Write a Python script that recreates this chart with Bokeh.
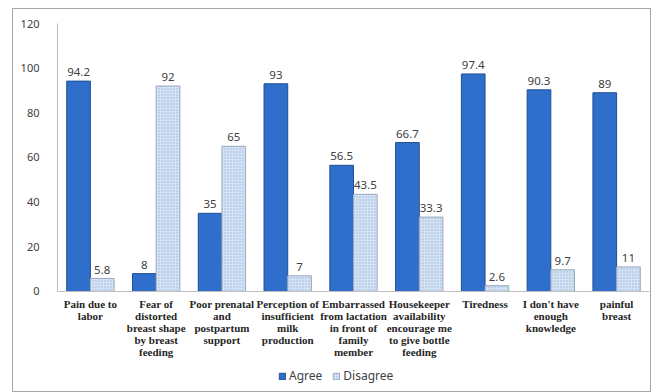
from bokeh.plotting import figure
from bokeh.models import ColumnDataSource, Legend, LegendItem, FactorRange
from bokeh.transform import dodge
from bokeh.core.properties import value
from bokeh.embed import file_html
from bokeh.resources import INLINE

categories = [
    "Pain due to\nlabor",
    "Fear of\ndistorted\nbreast shape\nby breast\nfeeding",
    "Poor prenatal\nand\npostpartum\nsupport",
    "Perception of\ninsufficient\nmilk\nproduction",
    "Embarrassed\nfrom lactation\nin front of\nfamily\nmember",
    "Housekeeper\navailability\nencourage me\nto give bottle\nfeeding",
    "Tiredness",
    "I don't have\nenough\nknowledge",
    "painful\nbreast",
]
agree = [94.2, 8, 35, 93, 56.5, 66.7, 97.4, 90.3, 89]
disagree = [5.8, 92, 65, 7, 43.5, 33.3, 2.6, 9.7, 11]
y_ticks = [0, 20, 40, 60, 80, 100, 120]

src = ColumnDataSource(dict(
    cat=categories, agree=agree, disagree=disagree,
    agree_lbl=[f"{v:g}" for v in agree],
    disagree_lbl=[f"{v:g}" for v in disagree],
))

p = figure(
    x_range=FactorRange(*categories, range_padding=0), y_range=(-43.9, 120),
    width=639, height=384, output_backend="svg", toolbar_location=None,
    min_border_left=44, min_border_top=14, min_border_right=3, min_border_bottom=4,
)
p.margin = (8, 2, 0, 12)
p.styles = {"border": "1px solid #a6a6a6", "box-sizing": "border-box"}
p.outline_line_color = None
p.xgrid.visible = False
p.ygrid.visible = False

ra = p.vbar(x=dodge("cat", -0.18, range=p.x_range), top="agree", width=0.36, source=src,
            fill_color="#2f6fcb", line_color="#1f4f94", line_width=1)
rd = p.vbar(x=dodge("cat", 0.18, range=p.x_range), top="disagree", width=0.36, source=src,
            fill_color="#d3e2f5", line_color="#9aa9bd", line_width=1,
            hatch_pattern="dot", hatch_color="#9fb5d3", hatch_scale=3, hatch_weight=1)

lbl_font = value("Noto Sans")
p.text(x=dodge("cat", -0.18, range=p.x_range), y="agree", text="agree_lbl", source=src,
       text_align="center", text_baseline="bottom", y_offset=-5,
       text_font=lbl_font, text_font_size="11.5px", text_color="#404040")
p.text(x=dodge("cat", 0.18, range=p.x_range), y="disagree", text="disagree_lbl", source=src,
       text_align="center", text_baseline="bottom", y_offset=-5,
       text_font=lbl_font, text_font_size="11.5px", text_color="#404040")

p.yaxis.ticker = y_ticks
p.yaxis.bounds = (0, 120)
p.yaxis.axis_line_color = "#bfbfbf"
p.yaxis.major_tick_line_color = None
p.yaxis.minor_tick_line_color = None
p.yaxis.major_label_standoff = 12
p.yaxis.major_label_text_font = "Noto Sans"
p.yaxis.major_label_text_font_size = "11px"
p.yaxis.major_label_text_color = "#404040"

p.xaxis.fixed_location = 0
p.xaxis.axis_line_color = "#bfbfbf"
p.xaxis.major_tick_line_color = None
p.xaxis.minor_tick_line_color = None
p.xaxis.major_label_standoff = 1
p.xaxis.major_label_text_font = "Liberation Serif"
p.xaxis.major_label_text_font_style = "bold"
p.xaxis.major_label_text_font_size = "11px"
p.xaxis.major_label_text_color = "#262626"
p.xaxis.major_label_text_line_height = 1.0

legend = Legend(
    items=[LegendItem(label="Agree", renderers=[ra]), LegendItem(label="Disagree", renderers=[rd])],
    orientation="horizontal", location=(221, 5),
    glyph_width=8, glyph_height=8, label_standoff=3, spacing=10, padding=2, margin=0,
    label_text_font="Noto Sans", label_text_font_size="12px", label_text_color="#404040",
    border_line_color=None, background_fill_alpha=0,
)
p.add_layout(legend, "center")

open("out.html", "w").write(file_html(p, INLINE))
